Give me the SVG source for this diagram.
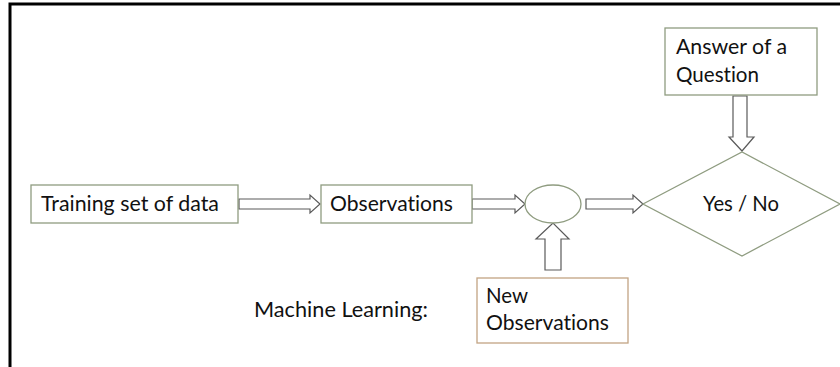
<svg xmlns="http://www.w3.org/2000/svg" width="840" height="367" viewBox="0 0 840 367">
<style>
.box{fill:#fff;stroke:#8f9c80;stroke-width:1.3}
.tan{fill:#fff;stroke:#c2a483;stroke-width:1.3}
.arr{fill:#fff;stroke:#5a5a5a;stroke-width:1.2;stroke-linejoin:miter}
text{font-family:Lato,"Open Sans",sans-serif;font-size:21.5px;fill:#111;font-variant-ligatures:none}
</style>
<rect x="0" y="0" width="840" height="367" fill="#fff"/>
<path d="M10,367 V4 H840" fill="none" stroke="#000" stroke-width="3"/>
<g id="connectors">
<polygon class="arr" points="239,199 310,199 310,195 320,204 310,213 310,209 239,209"/>
<polygon class="arr" points="472,199 515,199 515,195 525,204 515,213 515,209 472,209"/>
<polygon class="arr" points="586,199 633,199 633,195 643,204 633,213 633,209 586,209"/>
<polygon class="arr" points="733,96 747,96 747,137 754,137 742,151 729,137 733,137"/>
<polygon class="arr" points="545,270 561,270 561,239 569,239 553,223 536,239 545,239"/>
</g>
<g id="training">
<rect class="box" x="31" y="185" width="207" height="38"/>
<text x="41" y="211" textLength="178" lengthAdjust="spacingAndGlyphs">Training set of data</text>
</g>
<g id="observations">
<rect class="box" x="321" y="185" width="151" height="38"/>
<text x="330" y="211" textLength="123" lengthAdjust="spacingAndGlyphs">Observations</text>
</g>
<g id="combine">
<ellipse class="box" cx="553" cy="204" rx="28" ry="19"/>
</g>
<g id="yesno">
<polygon class="box" points="643,204 742,152 840,204 742,256"/>
<text x="703" y="211" textLength="76" lengthAdjust="spacingAndGlyphs">Yes / No</text>
</g>
<g id="answer">
<rect class="box" x="665" y="28" width="152" height="67"/>
<text x="676" y="54" textLength="111" lengthAdjust="spacingAndGlyphs">Answer of a</text>
<text x="676" y="82" textLength="83" lengthAdjust="spacingAndGlyphs">Question</text>
</g>
<g id="newobs">
<rect class="tan" x="477" y="278" width="151" height="65"/>
<text x="486" y="303" textLength="42" lengthAdjust="spacingAndGlyphs">New</text>
<text x="486" y="330" textLength="123" lengthAdjust="spacingAndGlyphs">Observations</text>
</g>
<g id="label">
<text x="254" y="317" textLength="174" lengthAdjust="spacingAndGlyphs">Machine Learning:</text>
</g>
</svg>
